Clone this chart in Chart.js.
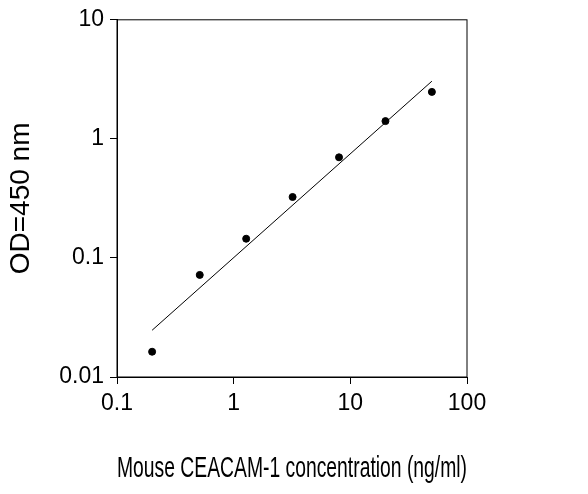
<!DOCTYPE html>
<html>
<head>
<meta charset="utf-8">
<script src="https://cdn.jsdelivr.net/npm/chart.js@4.4.1/dist/chart.umd.min.js"></script>
<style>
  body { margin: 0; background: #fff; }
  #wrap { width: 588px; height: 494px; }
</style>
</head>
<body>
<div id="wrap"><canvas id="elisaChart"></canvas></div>
<script>
// Standard curve data
const concentrations = [0.2, 0.512, 1.28, 3.2, 8, 20, 50];
const odValues = [0.0163, 0.072, 0.145, 0.325, 0.70, 1.41, 2.48];
const fitX = [0.2, 50];
const fitY = [0.0247, 3.05];
const xTicks = [0.1, 1, 10, 100];
const yTicks = [0.01, 0.1, 1, 10];

Chart.defaults.font.family = "'Liberation Sans', Arial, sans-serif";
Chart.defaults.color = "#000";

// Draw the box around the plot area
const frame = {
  id: "frame",
  afterDraw(chart) {
    const a = chart.chartArea, c = chart.ctx;
    c.save();
    c.strokeStyle = "#000";
    c.lineWidth = 1;
    c.strokeRect(a.left, a.top, a.right - a.left, a.bottom - a.top);
    c.restore();
  }
};

new Chart(document.getElementById("elisaChart"), {
  type: "scatter",
  data: {
    datasets: [
      {
        data: concentrations.map((x, i) => ({ x: x, y: odValues[i] })),
        backgroundColor: "#000",
        borderColor: "#000",
        pointRadius: 3.5
      },
      {
        type: "line",
        data: fitX.map((x, i) => ({ x: x, y: fitY[i] })),
        borderColor: "#000",
        borderWidth: 1,
        pointRadius: 0
      }
    ]
  },
  plugins: [frame],
  options: {
    responsive: true,
    maintainAspectRatio: false,
    animation: false,
    layout: { padding: { top: 10, right: 121, left: 0, bottom: 0 } },
    plugins: { legend: { display: false }, tooltip: { enabled: false } },
    scales: {
      x: {
        type: "logarithmic",
        min: 0.1,
        max: 100,
        afterBuildTicks: (s) => { s.ticks = xTicks.map(v => ({ value: v })); },
        afterFit: (s) => { s.height = 117; },
        ticks: { font: { size: 23 }, padding: 6, maxRotation: 0, callback: (v) => String(v) },
        grid: { drawOnChartArea: false, tickLength: 7, color: "#000" },
        border: { color: "#000" },
        title: { display: true, text: "Mouse CEACAM-1 concentration (ng/ml)", font: { size: 29 }, padding: { top: 20, bottom: 8 } }
      },
      y: {
        type: "logarithmic",
        min: 0.01,
        max: 10,
        afterBuildTicks: (s) => { s.ticks = yTicks.map(v => ({ value: v })); },
        afterFit: (s) => { s.width = 117; },
        ticks: { font: { size: 23 }, padding: 6, callback: (v) => String(v) },
        grid: { drawOnChartArea: false, tickLength: 7, color: "#000" },
        border: { color: "#000" },
        title: { display: true, text: "OD=450 nm", font: { size: 28 }, padding: { top: 4, bottom: 4 } }
      }
    }
  }
});
</script>
</body>
</html>
